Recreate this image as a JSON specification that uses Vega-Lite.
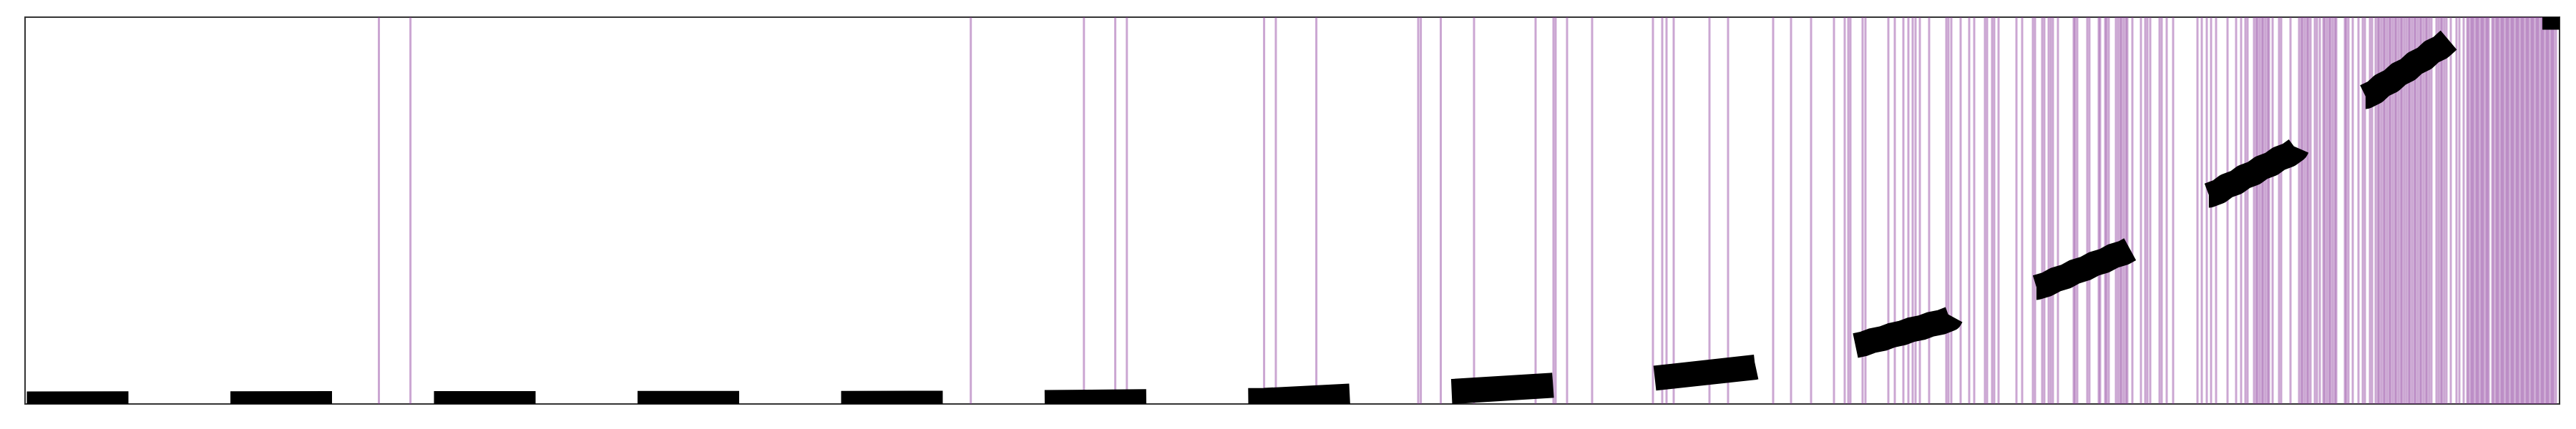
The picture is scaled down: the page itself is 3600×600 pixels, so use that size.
{
  "$schema": "https://vega.github.io/schema/vega-lite/v6.json",
  "width": 3542,
  "height": 541,
  "autosize": "none",
  "padding": {"left": 35, "top": 24, "right": 23, "bottom": 35},
  "background": "white",
  "config": {"view": {"stroke": "#333333", "strokeWidth": 2}},
  "datasets": {
    "events": [
      {"t":494.5},{"t":538.6},{"t":1321.7},{"t":1479.8},{"t":1523.6},{"t":1539.8},{"t":1731.6},{"t":1748},{"t":1804.6},{"t":1947},{"t":1950.6},{"t":1978.5},{"t":2025},{"t":2111},{"t":2136},{"t":2139},{"t":2155},{"t":2190},{"t":2275},{"t":2288},{"t":2294},{"t":2304},{"t":2354},{"t":2380},{"t":2443},{"t":2468},{"t":2496},{"t":2528},{"t":2543},
      {"t":2548},{"t":2551},{"t":2568},{"t":2572},{"t":2604},{"t":2613},{"t":2625},{"t":2632},{"t":2638},{"t":2642},{"t":2648},{"t":2661},{"t":2685},{"t":2688},{"t":2692},{"t":2705},{"t":2717},{"t":2724},{"t":2739},{"t":2742},{"t":2749},{"t":2752},{"t":2758},{"t":2783},{"t":2791},{"t":2806},{"t":2809},{"t":2819},{"t":2822},{"t":2828},{"t":2831},{"t":2834},{"t":2841},{"t":2863},{"t":2865},{"t":2868},{"t":2882},{"t":2885},{"t":2898},{"t":2900},{"t":2907},{"t":2909},{"t":2912},{"t":2922},{"t":2925},{"t":2928},{"t":2930},{"t":2933},{"t":2936},{"t":2938},{"t":2945},{"t":2957},{"t":2963},{"t":2966},{"t":2970},{"t":2983},{"t":2986},{"t":2993},{"t":3002},{"t":3036},{"t":3042},{"t":3049},{"t":3055},{"t":3062},
      {"t":3078},{"t":3090},{"t":3097},{"t":3103},{"t":3106},{"t":3115},{"t":3118},{"t":3120},{"t":3123},{"t":3126},{"t":3128},{"t":3131},{"t":3134},{"t":3136},{"t":3141},{"t":3150},{"t":3153},{"t":3166},{"t":3178},{"t":3181},{"t":3183},{"t":3186},{"t":3189},{"t":3191},{"t":3194},{"t":3200},{"t":3203},{"t":3207},{"t":3212},{"t":3214},{"t":3217},{"t":3220},{"t":3222},{"t":3225},{"t":3228},{"t":3230},{"t":3242},{"t":3244},{"t":3247},{"t":3253},{"t":3261},{"t":3267},{"t":3270},{"t":3277},{"t":3280},
      {"t":3285},{"t":3288},{"t":3290},{"t":3293},{"t":3296},{"t":3298},{"t":3301},{"t":3304},{"t":3306},{"t":3309},{"t":3312},{"t":3314},{"t":3317},{"t":3320},{"t":3322},{"t":3325},{"t":3328},{"t":3331},{"t":3333},{"t":3336},{"t":3339},{"t":3341},{"t":3344},{"t":3347},{"t":3349},{"t":3352},{"t":3355},{"t":3357},{"t":3360},{"t":3363},{"t":3370},{"t":3373},{"t":3376},{"t":3378},{"t":3381},{"t":3384},{"t":3390},{"t":3398},{"t":3402},{"t":3408},
      {"t":3413},{"t":3415},{"t":3418},{"t":3420},{"t":3422},{"t":3425},{"t":3427},{"t":3429},{"t":3432},{"t":3434},{"t":3436},{"t":3439},{"t":3441},{"t":3443},{"t":3448},{"t":3450},{"t":3453},{"t":3455},{"t":3457},{"t":3460},{"t":3462},{"t":3464},{"t":3467},{"t":3469},{"t":3471},{"t":3474},{"t":3476},{"t":3478},{"t":3481},{"t":3483},{"t":3485},{"t":3488},{"t":3490},{"t":3492},{"t":3495},{"t":3497},{"t":3499},{"t":3502},{"t":3504},{"t":3506},{"t":3509},{"t":3511},{"t":3513},{"t":3516},{"t":3518},{"t":3520},{"t":3523},{"t":3525},{"t":3527},{"t":3530},{"t":3532},{"t":3534},{"t":3537}
    ],
    "curve": [
      {"t":0,"v":0},{"t":539,"v":0.09},{"t":1322,"v":0.18},{"t":1540,"v":0.55},{"t":1732,"v":0.92},{"t":1852,"v":2.03},{"t":1995,"v":3.23},{"t":2133,"v":4.81},{"t":2277,"v":6.65},{"t":2418,"v":9.52},{"t":2554.5,"v":14.97},
      {"t":2569.5,"v":15.55},{"t":2581.6,"v":16.38},{"t":2596.6,"v":16.95},{"t":2608.7,"v":17.78},{"t":2623.7,"v":18.35},{"t":2635.8,"v":19.19},{"t":2650.8,"v":19.76},{"t":2662.9,"v":20.59},{"t":2677.9,"v":21.16},{"t":2690,"v":22.0},
      {"t":2714.2,"v":30.13},
      {"t":2811,"v":30.13},{"t":2826,"v":30.98},{"t":2837.8,"v":32.16},{"t":2852.8,"v":33.01},{"t":2864.6,"v":34.2},{"t":2879.6,"v":35.05},{"t":2891.4,"v":36.23},{"t":2906.4,"v":37.08},{"t":2918.2,"v":38.26},{"t":2933.2,"v":39.11},{"t":2945,"v":40.3},
      {"t":3014.6,"v":53.97},
      {"t":3052,"v":53.97},{"t":3066,"v":54.94},{"t":3076.4,"v":56.34},{"t":3090.4,"v":57.3},{"t":3100.8,"v":58.71},{"t":3114.8,"v":59.67},{"t":3125.2,"v":61.07},{"t":3139.2,"v":62.03},{"t":3149.6,"v":63.44},{"t":3163.6,"v":64.4},{"t":3174,"v":65.8},
      {"t":3206.4,"v":79.48},
      {"t":3271,"v":79.48},{"t":3284,"v":80.67},{"t":3294,"v":82.37},{"t":3307,"v":83.55},{"t":3317,"v":85.25},{"t":3330,"v":86.43},{"t":3340,"v":88.13},{"t":3353,"v":89.32},{"t":3363,"v":91.02},{"t":3376,"v":92.2},{"t":3386,"v":93.9},
      {"t":3425.2,"v":100},{"t":3542,"v":100}
    ]
  },
  "layer": [
    {
      "data": {"name": "events"},
      "mark": {"type": "rule", "color": "#8b3a9b", "opacity": 0.45, "strokeWidth": 3},
      "encoding": {
        "x": {"field": "t", "type": "quantitative", "scale": {"domain": [0, 3542], "nice": false, "zero": false}, "axis": null}
      }
    },
    {
      "data": {"name": "curve"},
      "mark": {"type": "line", "color": "black", "strokeWidth": 35, "strokeDash": [142, 142.5], "strokeDashOffset": -2.5, "strokeCap": "butt", "strokeJoin": "round", "clip": true},
      "encoding": {
        "x": {"field": "t", "type": "quantitative", "scale": {"domain": [0, 3542], "nice": false, "zero": false}, "axis": null},
        "y": {"field": "v", "type": "quantitative", "scale": {"domain": [0, 100], "nice": false}, "axis": null}
      }
    }
  ]
}
